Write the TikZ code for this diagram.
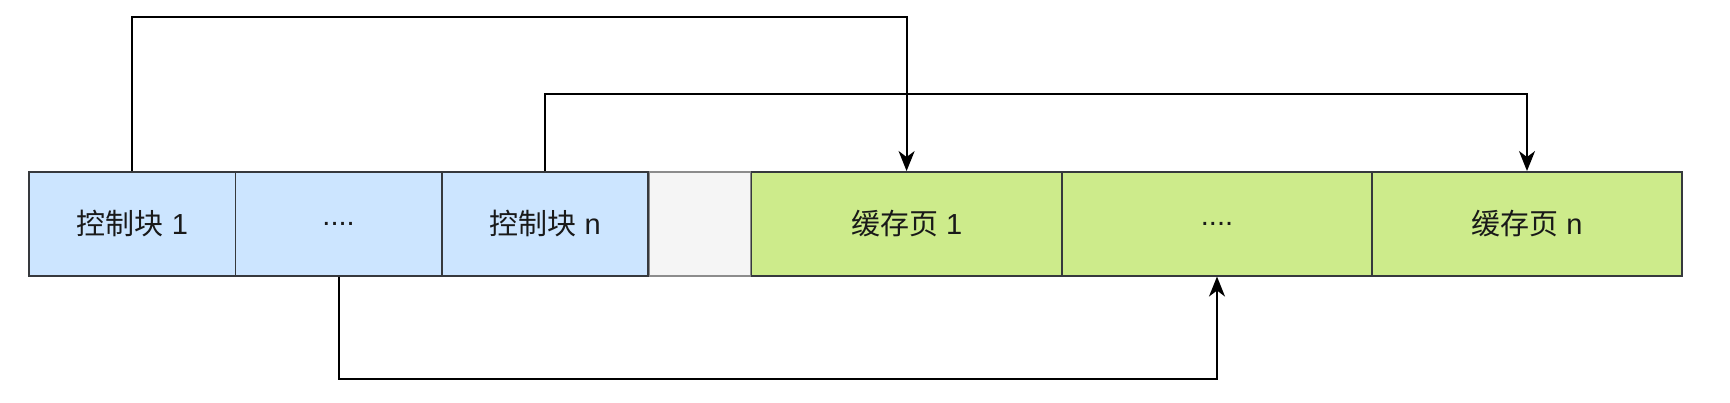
\documentclass[tikz,border=0pt]{standalone}
\usepackage{fontspec}
\setmainfont{Liberation Sans}
\newfontfamily\cjk{Noto Sans CJK SC}
\usetikzlibrary{arrows.meta}
\definecolor{ctlblue}{HTML}{CCE5FF}
\definecolor{pagegreen}{HTML}{CDEB8B}
\definecolor{freegray}{HTML}{F5F5F5}
\definecolor{edge}{HTML}{36393D}
\newcommand\fourdots{....}
\tikzset{
  cell/.style = {draw=edge, line width=.9pt, minimum height=51.85pt, inner sep=0pt,
                 text=black!90, font=\fontsize{14.5pt}{16pt}\selectfont},
  ctl/.style  = {cell, fill=ctlblue, minimum width=103.15pt},
  spare/.style = {cell, fill=freegray, draw=black!45, minimum width=51.3pt},
  page/.style = {cell, fill=pagegreen, minimum width=155.2pt},
  link/.style = {line width=1pt, -{Stealth[length=10pt,width=8pt,inset=3pt]}}
}
\begin{document}
\begin{tikzpicture}[x=.5pt,y=.5pt]
  \useasboundingbox (0,0) rectangle (1730,402);
  \node[spare] (gap) at (699.9,178.2) {};
  % control blocks
  \foreach \cx/\name/\lbl in {132.3/b1/{\cjk 控制块} 1, 338.6/b2/\fourdots, 545.2/bn/{\cjk 控制块} n}{
    \node[ctl] (\name) at (\cx,178.2) {\lbl};
  }
  % cache pages
  \foreach \cx/\name/\lbl in {906.6/g1/{\cjk 缓存页} 1, 1217/g2/\fourdots, 1527/gn/{\cjk 缓存页} n}{
    \node[page] (\name) at (\cx,178.2) {\lbl};
  }
  \draw[link] (b1.north) -- ++(0,154.4) -| (g1.north);
  \draw[link] (bn.north) -- ++(0,76.7) -| (gn.north);
  \draw[link] (b2.south) -- ++(0,-102.3) -| (g2.south);
\end{tikzpicture}
\end{document}
